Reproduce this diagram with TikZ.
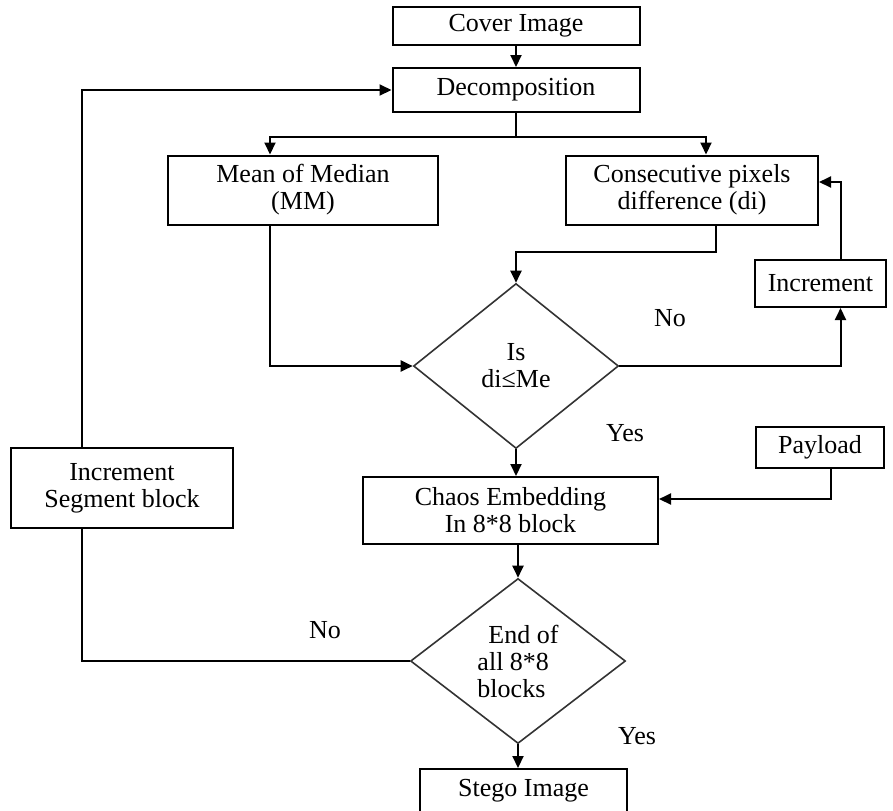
\documentclass[tikz,border=0pt]{standalone}
\usepackage{fontspec}
\setmainfont{Liberation Serif}
\usetikzlibrary{shapes.geometric,arrows.meta,positioning}
\tikzset{
  every node/.style={
    font=\fontsize{13}{13.5}\selectfont
  },
  process/.style n args={2}{
    shape=rectangle,
    draw=black,
    line width=1pt,
    minimum width=#1,
    minimum height=#2,
    inner sep=1pt,
    align=center
  },
  decision/.style n args={2}{
    shape=diamond,
    draw=black!80,
    line width=0.8pt,
    minimum width=#1,
    minimum height=#2,
    aspect=1.3,
    inner sep=0pt,
    align=center
  },
  flow/.style={
    draw=black,
    line width=1pt,
    -{Triangle[length=6pt,width=5.5pt]}
  },
  plain/.style={
    draw=black,
    line width=1pt
  }
}

\begin{document}
\begin{tikzpicture}[x=0.5pt,y=-0.5pt]

\useasboundingbox (0,0) rectangle (893,810);

% boxes
\node [process={123.5pt}{19pt}] (cover) at (516,26) {Cover Image};
\node [process={123.5pt}{22pt}] (decomp) at (516,90) {Decomposition};
\node [process={135pt}{34.5pt}] (median) at (303,190) {Mean of Median\\(MM)};
\node [process={126pt}{34.5pt}] (diff) at (692,190) {Consecutive pixels\\difference (di)};
\node [decision={102.5pt}{82.5pt}] (check) at (516,366) {Is\\di≤Me};
\node [process={65.5pt}{23.5pt}] (incr) at (820.5,283.5) {Increment};
\node [process={64pt}{20.5pt}] (payload) at (820,447.5) {Payload};
\node [process={147.5pt}{33.5pt}] (chaos) at (510.5,510.5) {Chaos Embedding\\In 8*8 block};
\node [decision={107.5pt}{82.5pt}, align=left] (blocks) at (518,661) {\hspace*{5.5pt}End of\\all 8*8\\blocks};
\node [process={103.5pt}{21.5pt}] (stego) at (523.5,790.5) {Stego Image};
\node [process={111pt}{40pt}] (segment) at (122,488) {Increment\\Segment block};

% labels
\node (no1) at (670,318) {No};
\node (yes1) at (625,433) {Yes};
\node (no2) at (325,630) {No};
\node (yes2) at (637,736) {Yes};

% connectors
\coordinate (split) at (516,137);
\draw [flow] (cover) -- (decomp);
\draw [plain] (decomp.south) -- (split);
\draw [flow] (split) -| ([xshift=-16.5pt]median.north);
\draw [flow] (split) -| ([xshift=7pt]diff.north);
\draw [flow] ([xshift=12pt]diff.south) -- ++(0,26) -| (check.north);
\draw [flow] ([xshift=-16.5pt]median.south) |- (check.west);
\draw [flow] (check.east) -| ([xshift=10pt]incr.south);
\draw [flow] ([xshift=10pt]incr.north) |- ([yshift=4pt]diff.east);
\draw [flow] (check.south) -- (check.south |- chaos.north);
\draw [flow] ([xshift=5.5pt]payload.south) |- ([yshift=5.75pt]chaos.east);
\draw [flow] (chaos.south -| blocks.north) -- (blocks.north);
\draw [flow] (blocks.south) -- (blocks.south |- stego.north);
\draw [plain] (blocks.west) -| ([xshift=-20pt]segment.south);
\draw [flow] ([xshift=-20pt]segment.north) |- (decomp.west);

\end{tikzpicture}
\end{document}
